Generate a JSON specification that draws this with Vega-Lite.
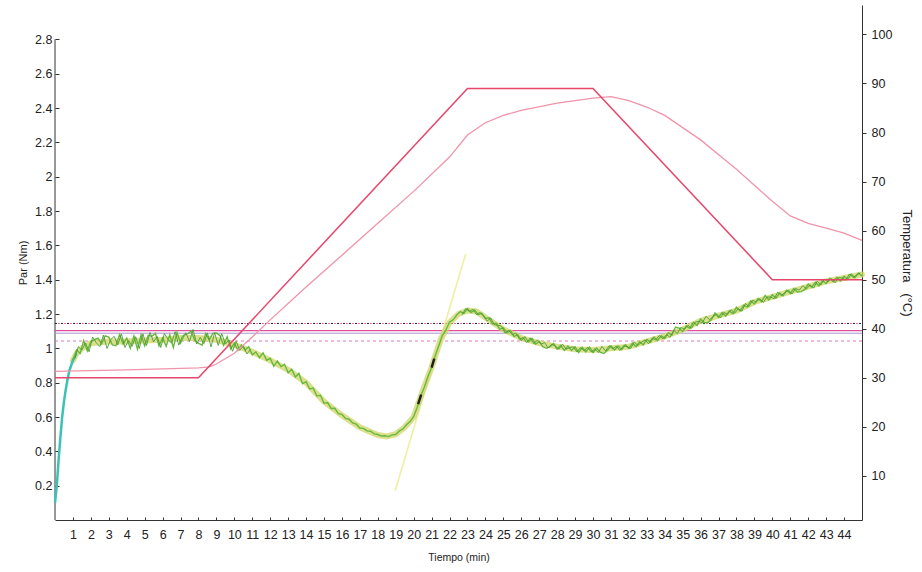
{
  "$schema": "https://vega.github.io/schema/vega-lite/v6.json",
  "width": 807,
  "height": 515,
  "autosize": {"type": "none"},
  "padding": {"left": 55, "top": 5, "right": 60, "bottom": 52},
  "background": "white",
  "config": {
    "view": {"stroke": null},
    "font": "Liberation Sans",
    "axis": {"grid": false, "labelColor": "#222", "titleColor": "#222", "domainColor": "#333", "tickColor": "#333", "labelFont": "Liberation Sans", "titleFont": "Liberation Sans", "titleFontWeight": "normal", "labelFontSize": 12, "titleFontSize": 11}
  },
  "datasets": {
    "teal": [
      {"t": 0, "v": 0.10}, {"t": 0.1, "v": 0.20}, {"t": 0.2, "v": 0.35}, {"t": 0.3, "v": 0.48},
      {"t": 0.4, "v": 0.60}, {"t": 0.5, "v": 0.69}, {"t": 0.6, "v": 0.76}, {"t": 0.7, "v": 0.82},
      {"t": 0.8, "v": 0.87}, {"t": 0.9, "v": 0.90}, {"t": 1.0, "v": 0.93}, {"t": 1.2, "v": 0.97}
    ],
    "base": [
      {"t": 1.0, "v": 0.93}, {"t": 1.2, "v": 0.97}, {"t": 1.5, "v": 1.00}, {"t": 2, "v": 1.03},
      {"t": 3, "v": 1.04}, {"t": 4, "v": 1.04}, {"t": 5, "v": 1.045}, {"t": 6, "v": 1.05},
      {"t": 7, "v": 1.06}, {"t": 8, "v": 1.06}, {"t": 9, "v": 1.05}, {"t": 10, "v": 1.02},
      {"t": 11, "v": 0.98}, {"t": 12, "v": 0.93}, {"t": 13, "v": 0.875}, {"t": 14, "v": 0.80},
      {"t": 15, "v": 0.69}, {"t": 16, "v": 0.61}, {"t": 17, "v": 0.54}, {"t": 18, "v": 0.495},
      {"t": 18.5, "v": 0.487}, {"t": 19, "v": 0.50}, {"t": 19.5, "v": 0.54}, {"t": 20, "v": 0.60},
      {"t": 20.5, "v": 0.75}, {"t": 21, "v": 0.89}, {"t": 21.5, "v": 1.05}, {"t": 22, "v": 1.15},
      {"t": 22.5, "v": 1.20}, {"t": 23, "v": 1.22}, {"t": 23.5, "v": 1.215}, {"t": 24, "v": 1.18},
      {"t": 24.5, "v": 1.145}, {"t": 25, "v": 1.11}, {"t": 26, "v": 1.06}, {"t": 27, "v": 1.03},
      {"t": 28, "v": 1.01}, {"t": 29, "v": 0.995}, {"t": 30, "v": 0.99}, {"t": 31, "v": 1.0},
      {"t": 32, "v": 1.01}, {"t": 33, "v": 1.04}, {"t": 34, "v": 1.07}, {"t": 35, "v": 1.11},
      {"t": 36, "v": 1.16}, {"t": 37, "v": 1.19}, {"t": 38, "v": 1.22}, {"t": 39, "v": 1.27},
      {"t": 40, "v": 1.30}, {"t": 41, "v": 1.33}, {"t": 42, "v": 1.36}, {"t": 43, "v": 1.39},
      {"t": 44, "v": 1.41}, {"t": 45, "v": 1.43}
    ],
    "par": [
      {"t": 1.0, "v": 0.93}, {"t": 1.2, "v": 0.99}, {"t": 1.4, "v": 0.97}, {"t": 1.6, "v": 1.045},
      {"t": 1.8, "v": 0.985}, {"t": 2.0, "v": 1.04}, {"t": 2.2, "v": 1.05}, {"t": 2.4, "v": 1.059},
      {"t": 2.6, "v": 1.026}, {"t": 2.8, "v": 1.073}, {"t": 3.0, "v": 1.065}, {"t": 3.2, "v": 1.02},
      {"t": 3.4, "v": 1.015}, {"t": 3.6, "v": 1.08}, {"t": 3.8, "v": 1.025}, {"t": 4.0, "v": 1.06},
      {"t": 4.2, "v": 1.001}, {"t": 4.4, "v": 1.072}, {"t": 4.6, "v": 0.995}, {"t": 4.8, "v": 1.079},
      {"t": 5.0, "v": 1.015}, {"t": 5.2, "v": 1.076}, {"t": 5.4, "v": 1.07}, {"t": 5.6, "v": 1.088},
      {"t": 5.8, "v": 1.014}, {"t": 6.0, "v": 1.06}, {"t": 6.2, "v": 1.012}, {"t": 6.4, "v": 1.079},
      {"t": 6.6, "v": 1.005}, {"t": 6.8, "v": 1.093}, {"t": 7.0, "v": 1.03}, {"t": 7.2, "v": 1.075},
      {"t": 7.4, "v": 1.085}, {"t": 7.6, "v": 1.10}, {"t": 7.8, "v": 1.045}, {"t": 8.0, "v": 1.03},
      {"t": 8.2, "v": 1.018}, {"t": 8.4, "v": 1.086}, {"t": 8.6, "v": 1.049}, {"t": 8.8, "v": 1.087},
      {"t": 9.0, "v": 1.09}, {"t": 9.2, "v": 1.074}, {"t": 9.4, "v": 1.018}, {"t": 9.6, "v": 1.067},
      {"t": 9.8, "v": 0.996}, {"t": 10.0, "v": 1.03}, {"t": 10.2, "v": 0.988}, {"t": 10.4, "v": 1.019},
      {"t": 10.6, "v": 0.99}, {"t": 10.8, "v": 1.009}, {"t": 11.0, "v": 0.962}, {"t": 11.2, "v": 0.979},
      {"t": 11.4, "v": 0.945}, {"t": 11.6, "v": 0.974}, {"t": 11.8, "v": 0.931}, {"t": 12.0, "v": 0.942},
      {"t": 12.2, "v": 0.895}, {"t": 12.4, "v": 0.926}, {"t": 12.6, "v": 0.894}, {"t": 12.8, "v": 0.907},
      {"t": 13.0, "v": 0.857}, {"t": 13.2, "v": 0.878}, {"t": 13.4, "v": 0.833}, {"t": 13.6, "v": 0.854},
      {"t": 13.8, "v": 0.794}, {"t": 14.0, "v": 0.806}, {"t": 14.2, "v": 0.763}, {"t": 14.4, "v": 0.768},
      {"t": 14.6, "v": 0.722}, {"t": 14.8, "v": 0.727}, {"t": 15.0, "v": 0.68}, {"t": 15.2, "v": 0.684},
      {"t": 15.4, "v": 0.65}, {"t": 15.6, "v": 0.651}, {"t": 15.8, "v": 0.619}, {"t": 16.0, "v": 0.615},
      {"t": 16.2, "v": 0.592}, {"t": 16.4, "v": 0.587}, {"t": 16.6, "v": 0.565}, {"t": 16.8, "v": 0.558},
      {"t": 17.0, "v": 0.536}, {"t": 17.2, "v": 0.534}, {"t": 17.4, "v": 0.519}, {"t": 17.6, "v": 0.517},
      {"t": 17.8, "v": 0.502}, {"t": 18.0, "v": 0.498}, {"t": 18.2, "v": 0.489}, {"t": 18.4, "v": 0.491},
      {"t": 18.6, "v": 0.486}, {"t": 18.8, "v": 0.496}, {"t": 19.0, "v": 0.498}, {"t": 19.2, "v": 0.519},
      {"t": 19.4, "v": 0.53}, {"t": 19.6, "v": 0.555}, {"t": 19.8, "v": 0.573}, {"t": 20.0, "v": 0.603},
      {"t": 20.2, "v": 0.657}, {"t": 20.4, "v": 0.724}, {"t": 20.6, "v": 0.775}, {"t": 20.8, "v": 0.837},
      {"t": 21.0, "v": 0.888}, {"t": 21.2, "v": 0.957}, {"t": 21.4, "v": 1.015}, {"t": 21.6, "v": 1.074},
      {"t": 21.8, "v": 1.107}, {"t": 22.0, "v": 1.153}, {"t": 22.2, "v": 1.166}, {"t": 22.4, "v": 1.194},
      {"t": 22.6, "v": 1.214}, {"t": 22.8, "v": 1.204}, {"t": 23.0, "v": 1.232}, {"t": 23.2, "v": 1.208},
      {"t": 23.4, "v": 1.224}, {"t": 23.6, "v": 1.196}, {"t": 23.8, "v": 1.204}, {"t": 24.0, "v": 1.174},
      {"t": 24.2, "v": 1.178}, {"t": 24.4, "v": 1.142}, {"t": 24.6, "v": 1.146}, {"t": 24.8, "v": 1.112},
      {"t": 25.0, "v": 1.12}, {"t": 25.2, "v": 1.09}, {"t": 25.4, "v": 1.104}, {"t": 25.6, "v": 1.068},
      {"t": 25.8, "v": 1.08}, {"t": 26.0, "v": 1.046}, {"t": 26.2, "v": 1.066}, {"t": 26.4, "v": 1.038},
      {"t": 26.6, "v": 1.058}, {"t": 26.8, "v": 1.024}, {"t": 27.0, "v": 1.04}, {"t": 27.2, "v": 1.01},
      {"t": 27.4, "v": 1.0}, {"t": 27.6, "v": 1.01}, {"t": 27.8, "v": 1.028}, {"t": 28.0, "v": 0.996},
      {"t": 28.2, "v": 1.017}, {"t": 28.4, "v": 0.988}, {"t": 28.6, "v": 1.013}, {"t": 28.8, "v": 0.988},
      {"t": 29.0, "v": 1.009}, {"t": 29.2, "v": 0.976}, {"t": 29.4, "v": 1.005}, {"t": 29.6, "v": 0.98},
      {"t": 29.8, "v": 1.007}, {"t": 30.0, "v": 0.976}, {"t": 30.2, "v": 1.002}, {"t": 30.4, "v": 0.978},
      {"t": 30.6, "v": 0.97}, {"t": 30.8, "v": 0.988}, {"t": 31.0, "v": 1.014}, {"t": 31.2, "v": 0.99},
      {"t": 31.4, "v": 1.014}, {"t": 31.6, "v": 0.992}, {"t": 31.8, "v": 1.02}, {"t": 32.0, "v": 1.0},
      {"t": 32.2, "v": 1.03}, {"t": 32.4, "v": 1.01}, {"t": 32.6, "v": 1.038}, {"t": 32.8, "v": 1.02},
      {"t": 33.0, "v": 1.052}, {"t": 33.2, "v": 1.036}, {"t": 33.4, "v": 1.066}, {"t": 33.6, "v": 1.046},
      {"t": 33.8, "v": 1.074}, {"t": 34.0, "v": 1.058}, {"t": 34.2, "v": 1.09}, {"t": 34.4, "v": 1.078},
      {"t": 34.6, "v": 1.124}, {"t": 34.8, "v": 1.118}, {"t": 35.0, "v": 1.098}, {"t": 35.2, "v": 1.13},
      {"t": 35.4, "v": 1.116}, {"t": 35.6, "v": 1.152}, {"t": 35.8, "v": 1.134}, {"t": 36.0, "v": 1.17},
      {"t": 36.2, "v": 1.15}, {"t": 36.4, "v": 1.15}, {"t": 36.6, "v": 1.166}, {"t": 36.8, "v": 1.206},
      {"t": 37.0, "v": 1.18}, {"t": 37.2, "v": 1.208}, {"t": 37.4, "v": 1.188}, {"t": 37.6, "v": 1.218},
      {"t": 37.8, "v": 1.202}, {"t": 38.0, "v": 1.24}, {"t": 38.2, "v": 1.218}, {"t": 38.4, "v": 1.252},
      {"t": 38.6, "v": 1.24}, {"t": 38.8, "v": 1.276}, {"t": 39.0, "v": 1.258}, {"t": 39.2, "v": 1.29},
      {"t": 39.4, "v": 1.272}, {"t": 39.6, "v": 1.308}, {"t": 39.8, "v": 1.282}, {"t": 40.0, "v": 1.312},
      {"t": 40.2, "v": 1.292}, {"t": 40.4, "v": 1.322}, {"t": 40.6, "v": 1.306}, {"t": 40.8, "v": 1.338},
      {"t": 41.0, "v": 1.32}, {"t": 41.2, "v": 1.348}, {"t": 41.4, "v": 1.328}, {"t": 41.6, "v": 1.33},
      {"t": 41.8, "v": 1.342}, {"t": 42.0, "v": 1.374}, {"t": 42.2, "v": 1.356}, {"t": 42.4, "v": 1.384},
      {"t": 42.6, "v": 1.364}, {"t": 42.8, "v": 1.394}, {"t": 43.0, "v": 1.378}, {"t": 43.2, "v": 1.408},
      {"t": 43.4, "v": 1.388}, {"t": 43.6, "v": 1.414}, {"t": 43.8, "v": 1.392}, {"t": 44.0, "v": 1.42},
      {"t": 44.2, "v": 1.402}, {"t": 44.4, "v": 1.432}, {"t": 44.6, "v": 1.412}, {"t": 44.8, "v": 1.438},
      {"t": 45.0, "v": 1.422}
    ],
    "par2": [
      {"seg": "a", "t": 1.1, "v": 0.94}, {"seg": "a", "t": 1.3, "v": 1.01}, {"seg": "a", "t": 1.5, "v": 0.99}, {"seg": "a", "t": 1.7, "v": 1.032},
      {"seg": "a", "t": 1.9, "v": 0.98}, {"seg": "a", "t": 2.1, "v": 1.066}, {"seg": "a", "t": 2.3, "v": 1.033}, {"seg": "a", "t": 2.5, "v": 1.01},
      {"seg": "a", "t": 2.7, "v": 1.077}, {"seg": "a", "t": 2.9, "v": 0.999}, {"seg": "a", "t": 3.1, "v": 1.05}, {"seg": "a", "t": 3.3, "v": 1.07},
      {"seg": "a", "t": 3.5, "v": 1.02}, {"seg": "a", "t": 3.7, "v": 1.085}, {"seg": "a", "t": 3.9, "v": 1.005}, {"seg": "a", "t": 4.1, "v": 1.045},
      {"seg": "a", "t": 4.3, "v": 1.012}, {"seg": "a", "t": 4.5, "v": 1.068}, {"seg": "a", "t": 4.7, "v": 0.999}, {"seg": "a", "t": 4.9, "v": 1.085},
      {"seg": "a", "t": 5.1, "v": 1.016}, {"seg": "a", "t": 5.3, "v": 1.092}, {"seg": "a", "t": 5.5, "v": 1.038}, {"seg": "a", "t": 5.7, "v": 1.069},
      {"seg": "a", "t": 5.9, "v": 1.005}, {"seg": "a", "t": 6.1, "v": 1.086}, {"seg": "a", "t": 6.3, "v": 1.053}, {"seg": "a", "t": 6.5, "v": 1.03},
      {"seg": "a", "t": 6.7, "v": 1.097}, {"seg": "a", "t": 6.9, "v": 1.019}, {"seg": "a", "t": 7.1, "v": 1.07}, {"seg": "a", "t": 7.3, "v": 1.09},
      {"seg": "a", "t": 7.5, "v": 1.04}, {"seg": "a", "t": 7.7, "v": 1.11}, {"seg": "a", "t": 7.9, "v": 1.025}, {"seg": "a", "t": 8.1, "v": 1.064},
      {"seg": "a", "t": 8.3, "v": 1.027}, {"seg": "a", "t": 8.5, "v": 1.09}, {"seg": "a", "t": 8.7, "v": 1.008}, {"seg": "a", "t": 8.9, "v": 1.091},
      {"seg": "a", "t": 9.1, "v": 1.017}, {"seg": "a", "t": 9.3, "v": 1.086}, {"seg": "a", "t": 9.5, "v": 1.025}, {"seg": "a", "t": 9.7, "v": 1.049},
      {"seg": "a", "t": 9.9, "v": 0.983}, {"seg": "a", "t": 10.1, "v": 1.041}, {"seg": "a", "t": 10.3, "v": 0.988}, {"seg": "a", "t": 10.5, "v": 1.015},
      {"seg": "a", "t": 10.7, "v": 0.967}, {"seg": "a", "t": 10.9, "v": 0.994},
      {"seg": "b", "t": 22.7, "v": 1.196}, {"seg": "b", "t": 22.9, "v": 1.232}, {"seg": "b", "t": 23.1, "v": 1.215}, {"seg": "b", "t": 23.3, "v": 1.227},
      {"seg": "b", "t": 23.5, "v": 1.197}, {"seg": "b", "t": 23.7, "v": 1.209}, {"seg": "b", "t": 23.9, "v": 1.189}, {"seg": "b", "t": 24.1, "v": 1.159},
      {"seg": "b", "t": 24.3, "v": 1.177}, {"seg": "b", "t": 24.5, "v": 1.137}, {"seg": "b", "t": 24.7, "v": 1.135}, {"seg": "b", "t": 24.9, "v": 1.129},
      {"seg": "b", "t": 25.1, "v": 1.089}, {"seg": "b", "t": 25.3, "v": 1.105}, {"seg": "b", "t": 25.5, "v": 1.079}, {"seg": "b", "t": 25.7, "v": 1.089},
      {"seg": "b", "t": 25.9, "v": 1.053}, {"seg": "b", "t": 26.1, "v": 1.063}, {"seg": "b", "t": 26.3, "v": 1.033}, {"seg": "b", "t": 26.5, "v": 1.061},
      {"seg": "b", "t": 26.7, "v": 1.027}, {"seg": "b", "t": 26.9, "v": 1.049}, {"seg": "b", "t": 27.1, "v": 1.024}, {"seg": "b", "t": 27.3, "v": 1.034},
      {"seg": "b", "t": 27.5, "v": 1.002}, {"seg": "b", "t": 27.7, "v": 1.024}, {"seg": "b", "t": 27.9, "v": 1.014}, {"seg": "b", "t": 28.1, "v": 0.995},
      {"seg": "b", "t": 28.3, "v": 1.024}, {"seg": "b", "t": 28.5, "v": 0.995}, {"seg": "b", "t": 28.7, "v": 1.004}, {"seg": "b", "t": 28.9, "v": 1.009},
      {"seg": "b", "t": 29.1, "v": 0.979}, {"seg": "b", "t": 29.3, "v": 1.004}, {"seg": "b", "t": 29.5, "v": 0.987}, {"seg": "b", "t": 29.7, "v": 1.006},
      {"seg": "b", "t": 29.9, "v": 0.979}, {"seg": "b", "t": 30.1, "v": 0.997}, {"seg": "b", "t": 30.3, "v": 0.975}, {"seg": "b", "t": 30.5, "v": 1.011},
      {"seg": "b", "t": 30.7, "v": 0.985}, {"seg": "b", "t": 30.9, "v": 1.015}, {"seg": "b", "t": 31.1, "v": 0.997}, {"seg": "b", "t": 31.3, "v": 1.013},
      {"seg": "b", "t": 31.5, "v": 0.987}, {"seg": "b", "t": 31.7, "v": 1.015}, {"seg": "b", "t": 31.9, "v": 1.011}, {"seg": "b", "t": 32.1, "v": 0.999},
      {"seg": "b", "t": 32.3, "v": 1.037}, {"seg": "b", "t": 32.5, "v": 1.017}, {"seg": "b", "t": 32.7, "v": 1.035}, {"seg": "b", "t": 32.9, "v": 1.049},
      {"seg": "b", "t": 33.1, "v": 1.027}, {"seg": "b", "t": 33.3, "v": 1.059}, {"seg": "b", "t": 33.5, "v": 1.049}, {"seg": "b", "t": 33.7, "v": 1.075},
      {"seg": "b", "t": 33.9, "v": 1.055}, {"seg": "b", "t": 34.1, "v": 1.08}, {"seg": "b", "t": 34.3, "v": 1.064}, {"seg": "b", "t": 34.5, "v": 1.106},
      {"seg": "b", "t": 34.7, "v": 1.086}, {"seg": "b", "t": 34.9, "v": 1.122}, {"seg": "b", "t": 35.1, "v": 1.111}, {"seg": "b", "t": 35.3, "v": 1.135},
      {"seg": "b", "t": 35.5, "v": 1.117}, {"seg": "b", "t": 35.7, "v": 1.153}, {"seg": "b", "t": 35.9, "v": 1.157}, {"seg": "b", "t": 36.1, "v": 1.149},
      {"seg": "b", "t": 36.3, "v": 1.187}, {"seg": "b", "t": 36.5, "v": 1.167}, {"seg": "b", "t": 36.7, "v": 1.185}, {"seg": "b", "t": 36.9, "v": 1.199},
      {"seg": "b", "t": 37.1, "v": 1.177}, {"seg": "b", "t": 37.3, "v": 1.209}, {"seg": "b", "t": 37.5, "v": 1.199}, {"seg": "b", "t": 37.7, "v": 1.225},
      {"seg": "b", "t": 37.9, "v": 1.205}, {"seg": "b", "t": 38.1, "v": 1.231}, {"seg": "b", "t": 38.3, "v": 1.217}, {"seg": "b", "t": 38.5, "v": 1.261},
      {"seg": "b", "t": 38.7, "v": 1.243}, {"seg": "b", "t": 38.9, "v": 1.281}, {"seg": "b", "t": 39.1, "v": 1.269}, {"seg": "b", "t": 39.3, "v": 1.289},
      {"seg": "b", "t": 39.5, "v": 1.267}, {"seg": "b", "t": 39.7, "v": 1.299}, {"seg": "b", "t": 39.9, "v": 1.299}, {"seg": "b", "t": 40.1, "v": 1.289},
      {"seg": "b", "t": 40.3, "v": 1.327}, {"seg": "b", "t": 40.5, "v": 1.307}, {"seg": "b", "t": 40.7, "v": 1.325}, {"seg": "b", "t": 40.9, "v": 1.339},
      {"seg": "b", "t": 41.1, "v": 1.317}, {"seg": "b", "t": 41.3, "v": 1.349}, {"seg": "b", "t": 41.5, "v": 1.339}, {"seg": "b", "t": 41.7, "v": 1.365},
      {"seg": "b", "t": 41.9, "v": 1.345}, {"seg": "b", "t": 42.1, "v": 1.369}, {"seg": "b", "t": 42.3, "v": 1.351}, {"seg": "b", "t": 42.5, "v": 1.391},
      {"seg": "b", "t": 42.7, "v": 1.369}, {"seg": "b", "t": 42.9, "v": 1.403}, {"seg": "b", "t": 43.1, "v": 1.388}, {"seg": "b", "t": 43.3, "v": 1.406},
      {"seg": "b", "t": 43.5, "v": 1.382}, {"seg": "b", "t": 43.7, "v": 1.412}, {"seg": "b", "t": 43.9, "v": 1.41}, {"seg": "b", "t": 44.1, "v": 1.398},
      {"seg": "b", "t": 44.3, "v": 1.434}, {"seg": "b", "t": 44.5, "v": 1.412}, {"seg": "b", "t": 44.7, "v": 1.428}, {"seg": "b", "t": 44.9, "v": 1.44}
    ],
    "marcas": [
      {"t": 20.25, "v": 0.675, "seg": "a"}, {"t": 20.42, "v": 0.73, "seg": "a"},
      {"t": 21.0, "v": 0.888, "seg": "b"}, {"t": 21.15, "v": 0.94, "seg": "b"}
    ],
    "tangente": [{"t": 18.97, "v": 0.17}, {"t": 22.9, "v": 1.55}],
    "lineas": [
      {"tipo": "negra", "v": 1.145, "t": 0, "t2": 45},
      {"tipo": "rosa_punteada", "v": 1.145, "t": 0, "t2": 45},
      {"tipo": "magenta", "v": 1.103, "t": 0, "t2": 45},
      {"tipo": "lila", "v": 1.088, "t": 0, "t2": 45},
      {"tipo": "rosa_discontinua", "v": 1.043, "t": 0, "t2": 45}
    ],
    "eje": [{"t": 0, "v": 0, "v2": 2.8}],
    "consigna": [
      {"t": 0, "temp": 30}, {"t": 8, "temp": 30}, {"t": 23, "temp": 89},
      {"t": 30, "temp": 89}, {"t": 40, "temp": 50}, {"t": 45, "temp": 50}
    ],
    "muestra": [
      {"t": 0, "temp": 31.3}, {"t": 4, "temp": 31.6}, {"t": 8, "temp": 32}, {"t": 8.6, "temp": 32.2},
      {"t": 9, "temp": 32.8}, {"t": 10, "temp": 35}, {"t": 11, "temp": 38.3}, {"t": 12, "temp": 41.8},
      {"t": 14, "temp": 48.5}, {"t": 16, "temp": 55}, {"t": 18, "temp": 61.5}, {"t": 20, "temp": 68},
      {"t": 22, "temp": 75}, {"t": 23, "temp": 79.5}, {"t": 24, "temp": 82}, {"t": 25, "temp": 83.5},
      {"t": 26, "temp": 84.5}, {"t": 28, "temp": 86}, {"t": 30, "temp": 87}, {"t": 31, "temp": 87.3},
      {"t": 32, "temp": 86.5}, {"t": 33, "temp": 85.2}, {"t": 34, "temp": 83.5}, {"t": 36, "temp": 78.5},
      {"t": 38, "temp": 72.5}, {"t": 40, "temp": 66}, {"t": 41, "temp": 63}, {"t": 42, "temp": 61.5},
      {"t": 43, "temp": 60.5}, {"t": 44, "temp": 59.5}, {"t": 45, "temp": 58}
    ]
  },
  "layer": [
    {
      "encoding": {
        "x": {"field": "t", "type": "quantitative", "title": "Tiempo (min)",
              "scale": {"domain": [0, 45], "nice": false, "zero": false},
              "axis": {"values": [1,2,3,4,5,6,7,8,9,10,11,12,13,14,15,16,17,18,19,20,21,22,23,24,25,26,27,28,29,30,31,32,33,34,35,36,37,38,39,40,41,42,43,44],
                       "tickSize": -3, "labelPadding": 11, "titlePadding": 12, "labelFlush": false, "labelOverlap": false, "labelFontSize": 12.5, "titleFontSize": 10.5}},
        "y": {"field": "v", "type": "quantitative", "title": "Par (Nm)",
              "scale": {"domain": [0, 3.0], "nice": false, "zero": false},
              "axis": {"orient": "left", "domain": false, "format": "~g", "values": [0.2,0.4,0.6,0.8,1,1.2,1.4,1.6,1.8,2,2.2,2.4,2.6,2.8],
                       "tickSize": -4, "labelPadding": 7, "titlePadding": 6, "labelFlush": false, "labelOverlap": false, "labelFontSize": 12.5}}
      },
      "layer": [
        {"data": {"name": "eje"}, "mark": {"type": "rule", "color": "#333", "strokeWidth": 1}, "encoding": {"y2": {"field": "v2"}}},
        {"data": {"name": "lineas"}, "transform": [{"filter": "datum.tipo === 'negra'"}],
         "mark": {"type": "rule", "color": "#222", "strokeWidth": 1, "strokeDash": [2, 4]}, "encoding": {"x2": {"field": "t2"}}},
        {"data": {"name": "lineas"}, "transform": [{"filter": "datum.tipo === 'rosa_punteada'"}],
         "mark": {"type": "rule", "color": "#e06ab0", "strokeWidth": 1, "strokeDash": [2, 4], "strokeDashOffset": 3}, "encoding": {"x2": {"field": "t2"}}},
        {"data": {"name": "lineas"}, "transform": [{"filter": "datum.tipo === 'magenta'"}],
         "mark": {"type": "rule", "color": "#e0509a", "strokeWidth": 1.1}, "encoding": {"x2": {"field": "t2"}}},
        {"data": {"name": "lineas"}, "transform": [{"filter": "datum.tipo === 'lila'"}],
         "mark": {"type": "rule", "color": "#a898d2", "strokeWidth": 1}, "encoding": {"x2": {"field": "t2"}}},
        {"data": {"name": "lineas"}, "transform": [{"filter": "datum.tipo === 'rosa_discontinua'"}],
         "mark": {"type": "rule", "color": "#e37cbc", "strokeWidth": 1.1, "strokeDash": [3, 3]}, "encoding": {"x2": {"field": "t2"}}},
        {"data": {"name": "tangente"}, "mark": {"type": "line", "color": "#eef0a2", "strokeWidth": 1.6}},
        {"data": {"name": "base"}, "mark": {"type": "line", "color": "#cfd66a", "strokeWidth": 6, "opacity": 0.75, "strokeCap": "round"}},
        {"data": {"name": "teal"}, "mark": {"type": "line", "color": "#3cc2b4", "strokeWidth": 2.5}},
        {"data": {"name": "par"}, "mark": {"type": "line", "color": "#68b83e", "strokeWidth": 1.4}},
        {"data": {"name": "par2"}, "mark": {"type": "line", "color": "#45962e", "strokeWidth": 1, "opacity": 0.85}, "encoding": {"detail": {"field": "seg"}}},
        {"data": {"name": "marcas"}, "mark": {"type": "line", "color": "#222", "strokeWidth": 2.5}, "encoding": {"detail": {"field": "seg"}}}
      ]
    },
    {
      "encoding": {
        "x": {"field": "t", "type": "quantitative", "title": "Tiempo (min)",
              "scale": {"domain": [0, 45], "nice": false, "zero": false},
              "axis": {"values": [1,2,3,4,5,6,7,8,9,10,11,12,13,14,15,16,17,18,19,20,21,22,23,24,25,26,27,28,29,30,31,32,33,34,35,36,37,38,39,40,41,42,43,44],
                       "tickSize": -3, "labelPadding": 11, "titlePadding": 12, "labelFlush": false, "labelOverlap": false, "labelFontSize": 12.5, "titleFontSize": 10.5}},
        "y": {"field": "temp", "type": "quantitative", "title": "Temperatura\u00a0\u00a0\u00a0(°C)",
              "scale": {"domain": [1, 106], "nice": false, "zero": false},
              "axis": {"orient": "right", "values": [10,20,30,40,50,60,70,80,90,100],
                       "tickSize": 4, "labelPadding": 5, "titlePadding": 8, "labelFlush": false, "labelOverlap": false, "labelFontSize": 12.5, "titleFontSize": 13}}
      },
      "layer": [
        {"data": {"name": "muestra"}, "mark": {"type": "line", "color": "#f094aa", "strokeWidth": 1.3}},
        {"data": {"name": "consigna"}, "mark": {"type": "line", "color": "#e8456c", "strokeWidth": 1.5}}
      ]
    }
  ],
  "resolve": {"scale": {"y": "independent"}}
}
